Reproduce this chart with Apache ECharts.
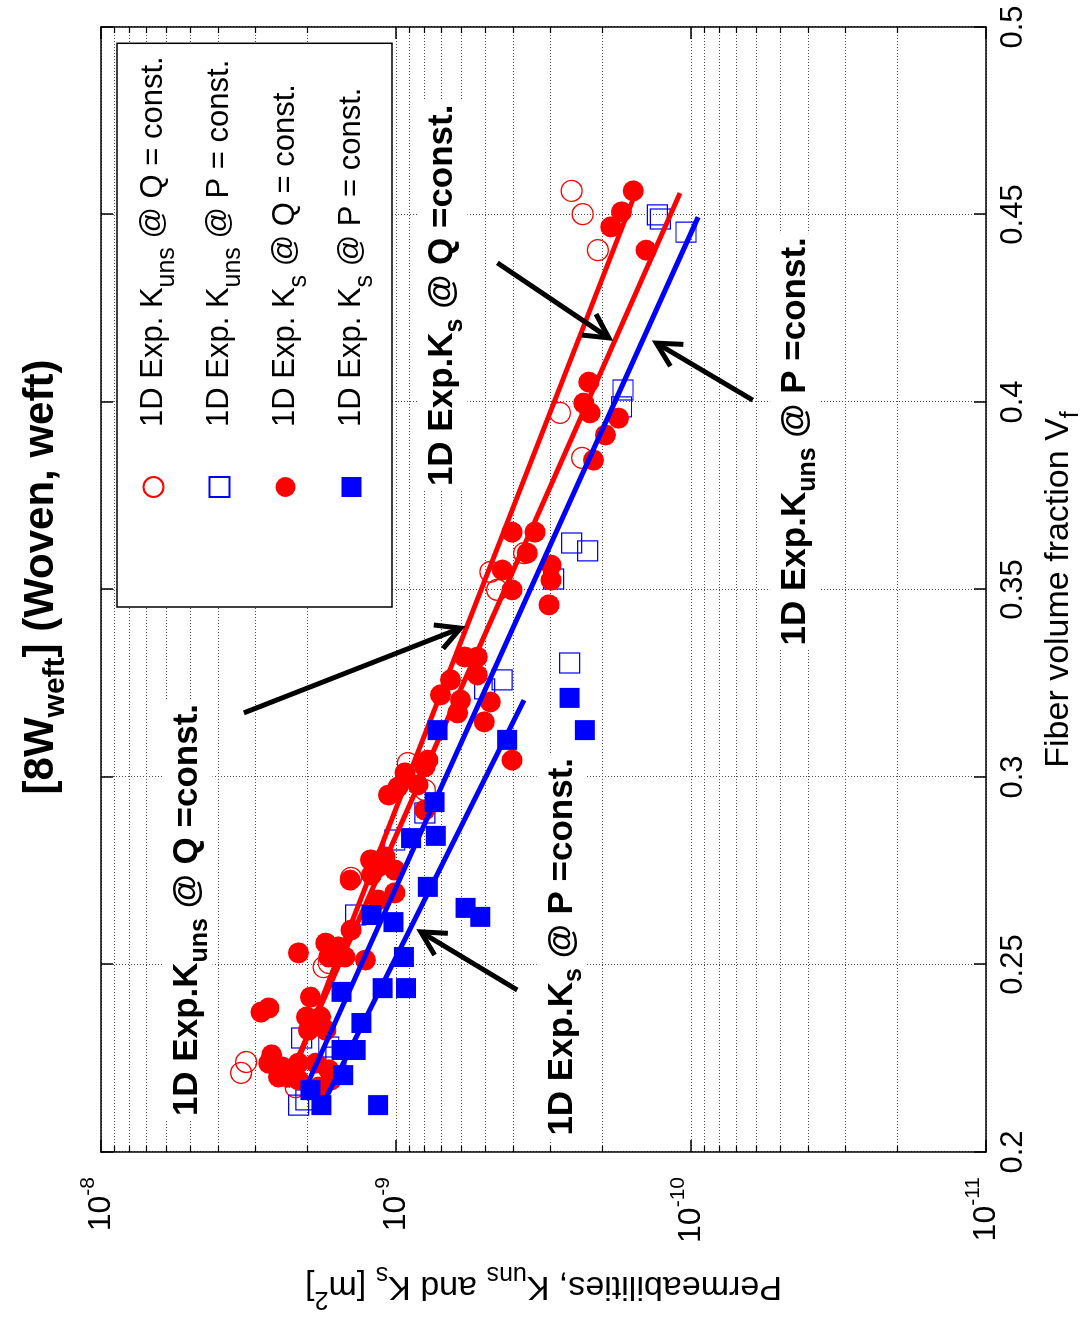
<!DOCTYPE html>
<html>
<head>
<meta charset="utf-8">
<script src="https://cdn.jsdelivr.net/npm/echarts@6/dist/echarts.min.js"></script>
<style>
html,body{margin:0;padding:0;background:#fff;overflow:hidden;width:1089px;height:1325px;}
#wrap{position:absolute;left:0;top:0;width:1089px;height:1325px;overflow:hidden;}
#chart{position:absolute;left:0;top:0;width:1325px;height:1089px;transform-origin:0 0;transform:translate(0,1325px) rotate(-90deg);}
</style>
</head>
<body>
<div id="wrap"><div id="chart"></div></div>
<script>
// ---------------- DATA (Vf = fiber volume fraction, K = permeability [m^2]) ----------------
// 1D Exp. K_uns @ Q = const. (open red circles)
const kunsQ_vf = [0.2211,0.2240,0.2173,0.2493,0.2504,0.2731,0.3037,0.2965,0.3547,0.3499,0.3597,0.3971,0.3851,0.4563,0.4501,0.4405];
const kunsQ_k  = [3.35e-9,3.22e-9,2.19e-9,1.76e-9,1.69e-9,1.42e-9,9.12e-10,7.98e-10,4.79e-10,4.54e-10,3.68e-10,2.78e-10,2.34e-10,2.54e-10,2.33e-10,2.07e-10];
// 1D Exp. K_uns @ P = const. (open blue squares)
const kunsP_vf = [0.2125,0.2139,0.2304,0.2280,0.2253,0.2632,0.2832,0.2904,0.3235,0.3259,0.3304,0.3528,0.3624,0.3603,0.3987,0.4032,0.4499,0.4488,0.4453];
const kunsP_k  = [2.14e-9,2.02e-9,2.09e-9,1.69e-9,1.60e-9,1.37e-9,1.01e-9,7.98e-10,5.01e-10,4.37e-10,2.58e-10,2.92e-10,2.54e-10,2.24e-10,1.72e-10,1.70e-10,1.30e-10,1.27e-10,1.04e-10];
// 1D Exp. K_s @ Q = const. (filled red circles)
const ksQ_vf = [0.4563,0.4507,0.4467,0.4405,0.4053,0.3997,0.3971,0.3957,0.3912,0.3845,
  0.3653,0.3653,0.3597,0.3552,0.3565,0.3525,0.3499,0.3459,0.3320,0.3320,
  0.3272,0.3259,0.3219,0.3205,0.3200,0.3171,0.3147,0.3045,0.3045,0.3011,
  0.3027,0.2973,0.2979,0.2952,0.2912,0.2779,0.2760,0.2752,0.2725,0.2787,
  0.2739,0.2691,0.2672,0.2592,0.2557,0.2547,0.2531,0.2520,0.2512,0.2520,
  0.2413,0.2373,0.2384,0.2360,0.2360,0.2325,0.2325,0.2259,0.2237,0.2227,
  0.2237,0.2237,0.2219,0.2200,0.2192,0.2192,0.2173];
const ksQ_k = [1.57e-10,1.72e-10,1.87e-10,1.42e-10,2.22e-10,2.31e-10,2.20e-10,1.76e-10,1.95e-10,2.14e-10,
  4.04e-10,3.38e-10,3.59e-10,4.36e-10,2.98e-10,2.98e-10,4.04e-10,3.03e-10,5.86e-10,5.30e-10,
  5.30e-10,6.53e-10,7.06e-10,6.04e-10,4.79e-10,6.18e-10,5.02e-10,7.80e-10,4.04e-10,9.33e-10,
  7.99e-10,9.85e-10,8.43e-10,1.06e-9,7.99e-10,1.22e-9,1.15e-9,1.01e-9,1.43e-9,1.09e-9,
  1.21e-9,1.01e-9,1.15e-9,1.42e-9,1.73e-9,1.57e-9,2.14e-9,1.49e-9,1.27e-9,1.69e-9,
  1.95e-9,2.87e-9,2.70e-9,2.01e-9,1.80e-9,1.98e-9,1.73e-9,2.64e-9,2.70e-9,2.44e-9,
  2.14e-9,1.87e-9,1.69e-9,2.50e-9,2.14e-9,1.66e-9,1.83e-9];
// 1D Exp. K_s @ P = const. (filled blue squares)
const ksP_vf = [0.2165,0.2125,0.2125,0.2205,0.2272,0.2272,0.2344,0.2427,0.2437,0.2437,0.2520,0.2632,0.2613,0.2707,0.2651,0.2627,0.2837,0.2843,0.2933,0.3125,0.3099,0.3211,0.3125];
const ksP_k  = [1.95e-9,1.79e-9,1.15e-9,1.51e-9,1.53e-9,1.37e-9,1.31e-9,1.53e-9,1.11e-9,9.25e-10,9.40e-10,1.21e-9,1.02e-9,7.80e-10,5.81e-10,5.18e-10,8.89e-10,7.33e-10,7.40e-10,7.23e-10,4.20e-10,2.58e-10,2.29e-10];
// fitted lines (end points)
const fitKunsQ_vf = [0.2173, 0.4547], fitKunsQ_k = [2.33e-9, 1.56e-10];
const fitKsQ_vf   = [0.2173, 0.4557], fitKsQ_k   = [2.38e-9, 1.09e-10];
const fitKunsP_vf = [0.2173, 0.4493], fitKunsP_k = [2.02e-9, 9.46e-11];
const fitKsP_vf   = [0.2147, 0.3205], fitKsP_k   = [1.72e-9, 3.68e-10];
// annotation arrows: [tail, tip] in data coordinates
const arrows = [
  [[0.3171, 3.28e-9], [0.3397, 6.04e-10]],
  [[0.2432, 3.88e-10], [0.2587, 8.24e-10]],
  [[0.4371, 4.53e-10], [0.4171, 1.90e-10]],
  [[0.4005, 6.18e-11], [0.4157, 1.31e-10]]
];
// annotation labels: anchor (start of text) in data coordinates
const notes = [
  {at: [0.2085, 5.09e-9],  txt: '{a|1D Exp.K}{s|uns}{a| @ Q =const.}'},
  {at: [0.2033, 2.74e-10], txt: '{a|1D Exp.K}{s|s}{a| @ P =const.}'},
  {at: [0.3765, 6.95e-10], txt: '{a|1D Exp.K}{s|s}{a| @ Q =const.}'},
  {at: [0.3340, 4.43e-11], txt: '{a|1D Exp.K}{s|uns}{a| @ P =const.}'}
];
const seriesNames = ['1D Exp. K_uns @ Q = const.', '1D Exp. K_uns @ P = const.', '1D Exp. K_s @ Q = const.', '1D Exp. K_s @ P = const.'];
const legendRich = {
  '1D Exp. K_uns @ Q = const.': '1D Exp. K{sub|uns} @ Q = const.',
  '1D Exp. K_uns @ P = const.': '1D Exp. K{sub|uns} @ P = const.',
  '1D Exp. K_s @ Q = const.': '1D Exp. K{sub|s} @ Q = const.',
  '1D Exp. K_s @ P = const.': '1D Exp. K{sub|s} @ P = const.'
};
// ---------------------------------------------------------------------------------------

const FF = 'Liberation Sans, Arial, Helvetica, sans-serif';
const RED = '#ff0000', BLUE = '#0000ff';
const SQUARE = 'path://M0,0L20,0L20,20L0,20Z';
function zip(a, b) { return a.map((v, i) => [v, b[i]]); }

const chart = echarts.init(document.getElementById('chart'), null, {renderer: 'canvas', width: 1325, height: 1089});

const gridLine = {show: true, lineStyle: {color: '#505050', width: 1, type: [1, 2]}};
const logAxisBase = {
  type: 'log', logBase: 10, min: 1e-11, max: 1e-8,
  axisLine: {show: true, onZero: false, lineStyle: {color: '#000', width: 1.5}},
  axisTick: {show: true, inside: true, length: 12, lineStyle: {color: '#000', width: 1.5}},
  minorTick: {show: true, splitNumber: 9, length: 6, lineStyle: {color: '#000', width: 1.2}}
};
const linAxisBase = {
  type: 'value', min: 0.2, max: 0.5, interval: 0.05,
  axisLine: {show: true, onZero: false, lineStyle: {color: '#000', width: 1.5}},
  axisTick: {show: true, inside: true, length: 12, lineStyle: {color: '#000', width: 1.5}}
};

const option = {
  animation: false,
  backgroundColor: '#fff',
  title: {
    text: '{a|[8W}{sub|weft}{a|] (Woven, weft)}',
    left: 743, top: 6, textAlign: 'center',
    textStyle: {
      rich: {
        a: {fontFamily: FF, fontSize: 42, fontWeight: 'bold', color: '#000', lineHeight: 60},
        sub: {fontFamily: FF, fontSize: 30, fontWeight: 'bold', color: '#000', lineHeight: 30, padding: [30, 0, 0, 0]}
      }
    }
  },
  legend: {
    show: true, orient: 'vertical', left: 718, top: 117,
    data: [
      {name: seriesNames[0], icon: 'circle'},
      {name: seriesNames[1], icon: SQUARE},
      {name: seriesNames[2], icon: 'circle'},
      {name: seriesNames[3], icon: SQUARE}
    ],
    itemWidth: 110, itemHeight: 20, itemGap: 13,
    padding: [10, 13, 14, 109],
    backgroundColor: '#fff', borderColor: '#000', borderWidth: 1.5,
    selectedMode: false,
    formatter: n => legendRich[n],
    textStyle: {
      fontFamily: FF, fontSize: 31, color: '#000', lineHeight: 52,
      rich: {sub: {fontFamily: FF, fontSize: 25, color: '#000', lineHeight: 25, padding: [28, 0, 0, 0]}}
    }
  },
  grid: {left: 173, right: 27, top: 101, bottom: 97, containLabel: false},
  xAxis: [
    Object.assign({}, linAxisBase, {
      position: 'bottom',
      splitLine: gridLine,
      axisLabel: {show: true, fontFamily: FF, fontSize: 31, color: '#000', margin: 12},
      name: '{a|Fiber volume fraction V}{sub|f}',
      nameLocation: 'middle', nameGap: 48,
      nameTextStyle: {
        rich: {
          a: {fontFamily: FF, fontSize: 34, color: '#000', lineHeight: 50},
          sub: {fontFamily: FF, fontSize: 25, color: '#000', lineHeight: 25, padding: [25, 0, 0, 0]}
        }
      }
    }),
    Object.assign({}, linAxisBase, {position: 'top', splitLine: {show: false}, axisLabel: {show: false}})
  ],
  yAxis: [
    Object.assign({}, logAxisBase, {
      position: 'left',
      splitLine: gridLine,
      minorSplitLine: gridLine,
      axisLabel: {
        show: true, margin: 25,
        formatter: v => '{b|10}{s|' + Math.round(Math.log10(v)) + '}',
        rich: {
          b: {fontFamily: FF, fontSize: 32, color: '#000', lineHeight: 47},
          s: {fontFamily: FF, fontSize: 21, color: '#000', lineHeight: 21, padding: [0, 0, 26, 0]}
        }
      },
      name: '{a|Permeabilities, K}{sub|uns}{a| and K}{sub|s}{a| [m}{sup|2}{a|]}',
      nameLocation: 'middle', nameRotate: 90, nameGap: 109,
      nameTextStyle: {
        rich: {
          a: {fontFamily: FF, fontSize: 34, color: '#000', lineHeight: 50},
          sub: {fontFamily: FF, fontSize: 25, color: '#000', lineHeight: 25, padding: [25, 0, 0, 0]},
          sup: {fontFamily: FF, fontSize: 25, color: '#000', lineHeight: 25, padding: [0, 0, 25, 0]}
        }
      }
    }),
    Object.assign({}, logAxisBase, {position: 'right', splitLine: {show: false}, axisLabel: {show: false}})
  ],
  series: [
    {name: seriesNames[0], type: 'scatter', z: 2, symbol: 'circle', symbolSize: 21,
     itemStyle: {color: 'rgba(255,255,255,0)', borderColor: RED, borderWidth: 1.2, opacity: 1},
     data: zip(kunsQ_vf, kunsQ_k)},
    {name: seriesNames[1], type: 'scatter', z: 3, symbol: 'rect', symbolSize: 20,
     itemStyle: {color: 'rgba(255,255,255,0)', borderColor: BLUE, borderWidth: 1.2, opacity: 1},
     data: zip(kunsP_vf, kunsP_k)},
    {name: seriesNames[2], type: 'scatter', z: 4, symbol: 'circle', symbolSize: 21,
     itemStyle: {color: RED, opacity: 1}, data: zip(ksQ_vf, ksQ_k)},
    {name: 'fit1', type: 'line', z: 5, symbol: 'none', silent: true, lineStyle: {color: RED, width: 5},
     data: zip(fitKunsQ_vf, fitKunsQ_k)},
    {name: 'fit2', type: 'line', z: 5, symbol: 'none', silent: true, lineStyle: {color: RED, width: 5},
     data: zip(fitKsQ_vf, fitKsQ_k)},
    {name: seriesNames[3], type: 'scatter', z: 6, symbol: 'rect', symbolSize: 20,
     itemStyle: {color: BLUE, opacity: 1}, data: zip(ksP_vf, ksP_k)},
    {name: 'fit3', type: 'line', z: 7, symbol: 'none', silent: true, lineStyle: {color: BLUE, width: 5},
     data: zip(fitKunsP_vf, fitKunsP_k)},
    {name: 'fit4', type: 'line', z: 7, symbol: 'none', silent: true, lineStyle: {color: BLUE, width: 5},
     data: zip(fitKsP_vf, fitKsP_k)}
  ]
};
chart.setOption(option);

// annotations (arrows + bold labels), positioned from data coordinates
const px = p => chart.convertToPixel({gridIndex: 0}, p);
const gfx = [];
const noteRich = {
  a: {fontFamily: FF, fontSize: 35, fontWeight: 'bold', fill: '#000', lineHeight: 50},
  s: {fontFamily: FF, fontSize: 25, fontWeight: 'bold', fill: '#000', lineHeight: 25, padding: [25, 0, 0, 0]}
};
notes.forEach(n => {
  const p = px(n.at);
  gfx.push({type: 'text', x: p[0], y: p[1], z: 50,
    style: {text: n.txt, rich: noteRich, align: 'left', verticalAlign: 'middle',
            backgroundColor: '#fff', padding: [0, 4, 0, 4]}});
});
arrows.forEach(ar => {
  const a = px(ar[0]), b = px(ar[1]);
  const ang = Math.atan2(b[1] - a[1], b[0] - a[0]);
  const L = 27, phi = 28 * Math.PI / 180;
  const h1 = [b[0] - L * Math.cos(ang - phi), b[1] - L * Math.sin(ang - phi)];
  const h2 = [b[0] - L * Math.cos(ang + phi), b[1] - L * Math.sin(ang + phi)];
  gfx.push({type: 'polyline', z: 60, shape: {points: [a, b]}, style: {stroke: '#000', lineWidth: 5, fill: null}});
  gfx.push({type: 'polyline', z: 60, shape: {points: [h1, b, h2]}, style: {stroke: '#000', lineWidth: 5, fill: null, lineJoin: 'miter'}});
});
chart.setOption({graphic: gfx});
</script>
</body>
</html>
